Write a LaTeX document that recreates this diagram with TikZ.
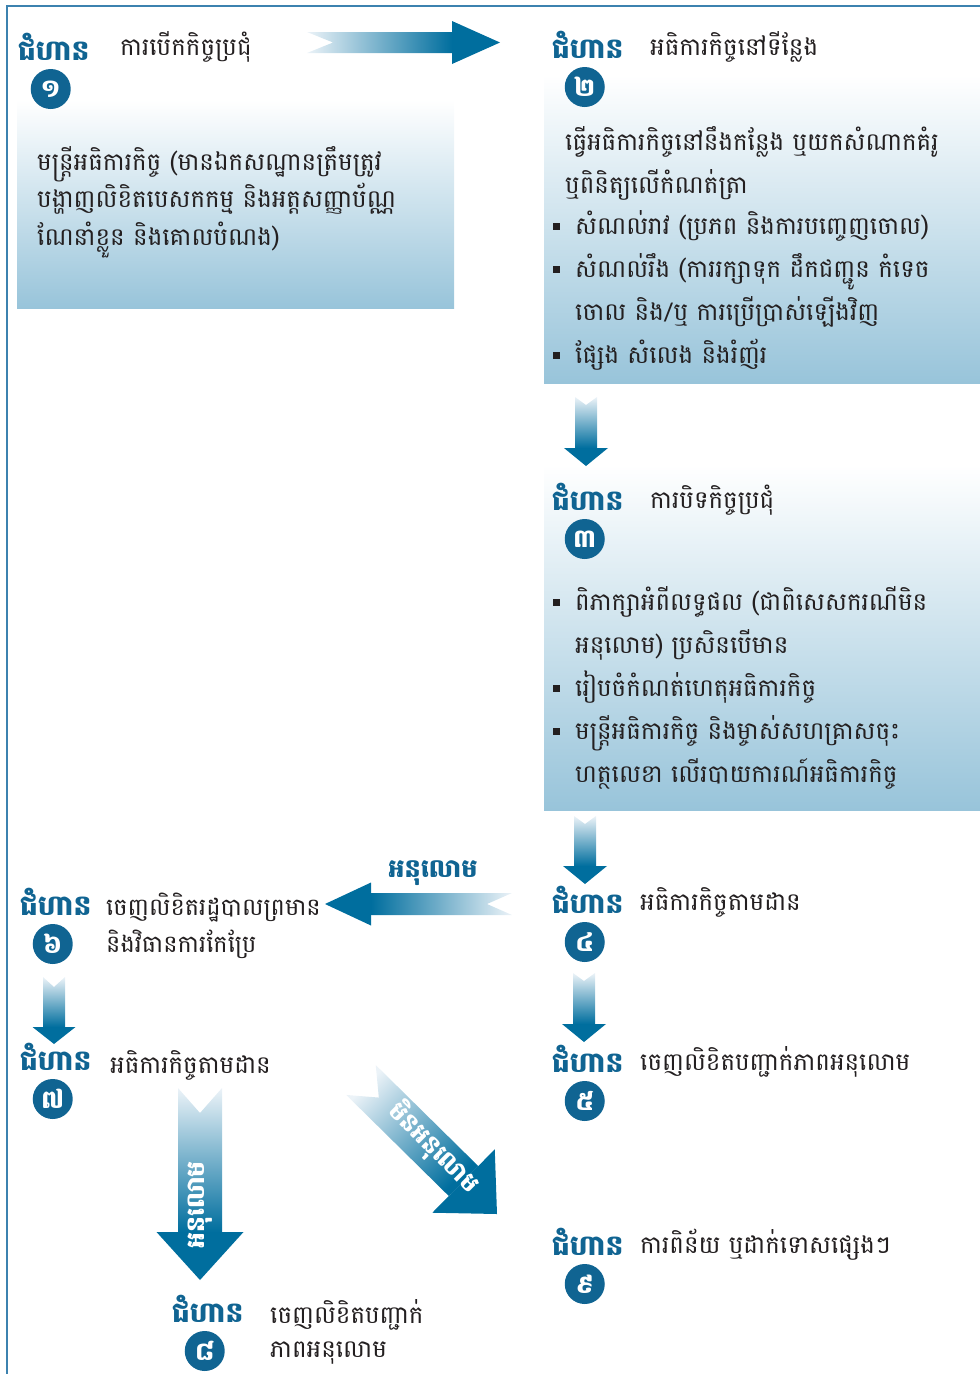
\documentclass[tikz,border=0pt]{standalone}
\usepackage{fontspec}
\newfontfamily\khmer[Script=Khmer]{Battambang}
\usetikzlibrary{calc,positioning}

\definecolor{stepblue}{RGB}{16,100,146}
\definecolor{arrowdark}{RGB}{0,110,158}
\definecolor{arrowpale}{RGB}{236,243,248}
\definecolor{boxblue}{RGB}{152,196,218}
\definecolor{framecol}{RGB}{60,130,175}
\definecolor{textgray}{RGB}{35,31,32}

\tikzset{
  headtext/.style={font=\khmer\bfseries\fontsize{28}{30}\selectfont, text=stepblue, inner sep=0pt},
  titletext/.style={font=\khmer\fontsize{24.5}{37}\selectfont, text=textgray, inner sep=0pt, align=left},
  listtext/.style={font=\khmer\fontsize{24.5}{43}\selectfont, text=textgray, inner sep=0pt, align=left},
  numdisc/.style={circle, fill=stepblue, minimum size=40pt, inner sep=0pt, text=white,
    font=\khmer\bfseries\fontsize{25}{25}\selectfont},
  onarrow/.style={font=\khmer\bfseries\fontsize{25}{25}\selectfont, text=white, inner sep=0pt}
}

% square bullet and the indent of a follow-on line
\newcommand{\sqbullet}{\makebox[22pt][l]{\rule[4pt]{7pt}{7pt}}}
\newcommand{\goon}{\hspace*{22pt}}

% header "step" with its numbered disc below
\newcommand{\stephead}[4]{%
  \node[headtext, anchor=base west] (#1) at (#2,#3) {ជំហាន};
  \node[numdisc] (#1-num) at ($(#1.base)+(-3,29)$) {#4};
}

% block arrow from (#1-tail) to (#1-tip): shading angle, half shaft, half head, head length, notch
\newcommand{\flowarrow}[6]{%
  \coordinate (#1-base) at ($(#1-tip)!#5!(#1-tail)$);
  \shade[top color=arrowpale, bottom color=arrowdark, shading angle=#2]
    ($(#1-tail)!#3!90:(#1-tip)$) -- ($(#1-tail)!#6!(#1-tip)$)
    -- ($(#1-tail)!#3!-90:(#1-tip)$) -- ($(#1-base)!#3!-90:(#1-tip)$)
    -- ($(#1-base)!#3!90:(#1-tip)$) -- cycle;
  \fill[arrowdark] ($(#1-base)!#4!90:(#1-tip)$) -- (#1-tip)
    -- ($(#1-base)!#4!-90:(#1-tip)$) -- cycle;
}

\begin{document}
\begin{tikzpicture}[x=1pt, y=-1pt]
\useasboundingbox (0,0) rectangle (980,1374);

% frame, top and left only
\draw[framecol, line width=1.5pt] (7,1374) -- (7,6) -- (980,6);

% shaded panels
\shade[top color=white, bottom color=boxblue] (17,100) rectangle (454,308);
\shade[top color=white, bottom color=boxblue] (544,75) rectangle (980,383);
\shade[top color=white, bottom color=boxblue] (544,465) rectangle (980,810);

% step 1 (multi-line nodes sit on the baseline of their last line)
\stephead{s1}{18}{60}{១}
\node[titletext, anchor=base west] (s1-title) at (120,55) {ការបើកកិច្ចប្រជុំ};
\node[titletext, font=\khmer\fontsize{24.5}{37.5}\selectfont,
  anchor=base west] (s1-body) at (37,245)
  {មន្ត្រីអធិការកិច្ច (មានឯកសណ្ឋានត្រឹមត្រូវ\\
   បង្ហាញលិខិតបេសកកម្ម និងអត្តសញ្ញាប័ណ្ណ\\
   ណែនាំខ្លួន និងគោលបំណង)};

% step 2
\stephead{s2}{552}{58}{២}
\node[titletext, anchor=base west] (s2-title) at (650,55) {អធិការកិច្ចនៅទីន្លែង};
\node[listtext, anchor=base west] (s2-intro) at (565,193)
  {ធ្វើអធិការកិច្ចនៅនឹងកន្លែង ឬយកសំណាកគំរូ\\
   ឬពិនិត្យលើកំណត់ត្រា};
\node[listtext, anchor=base west] (s2-list) at (553,363)
  {\sqbullet សំណល់រាវ (ប្រភព និងការបញ្ចេញចោល)\\
   \sqbullet សំណល់រឹង (ការរក្សាទុក ដឹកជញ្ជូន កំទេច\\
   \goon ចោល និង/ឬ ការប្រើប្រាស់ឡើងវិញ\\
   \sqbullet ផ្សែង សំលេង និងរំញ័រ};

% step 3
\stephead{s3}{552}{510}{៣}
\node[titletext, anchor=base west] (s3-title) at (650,508) {ការបិទកិច្ចប្រជុំ};
\node[listtext, anchor=base west] (s3-list) at (553,782)
  {\sqbullet ពិភាក្សាអំពីលទ្ធផល (ជាពិសេសករណីមិន\\
   \goon អនុលោម) ប្រសិនបើមាន\\
   \sqbullet រៀបចំកំណត់ហេតុអធិការកិច្ច\\
   \sqbullet មន្ត្រីអធិការកិច្ច និងម្ចាស់សហគ្រាសចុះ\\
   \goon ហត្ថលេខា លើរបាយការណ៍អធិការកិច្ច};

% steps 4 and 5
\stephead{s4}{552}{913}{៤}
\node[titletext, anchor=base west] (s4-title) at (640,910) {អធិការកិច្ចតាមដាន};
\stephead{s5}{552}{1072}{៥}
\node[titletext, anchor=base west] (s5-title) at (640,1070) {ចេញលិខិតបញ្ជាក់ភាពអនុលោម};

% steps 6, 7 and 8
\stephead{s6}{20}{915}{៦}
\node[titletext, font=\khmer\fontsize{24}{37}\selectfont, anchor=base west] (s6-title) at (106,952)
  {ចេញលិខិតរដ្ឋបាលព្រមាន\\និងវិធានការកែប្រែ};
\stephead{s7}{20}{1070}{៧}
\node[titletext, anchor=base west] (s7-title) at (110,1073) {អធិការកិច្ចតាមដាន};
\stephead{s8}{172}{1322}{៨}
\node[titletext, font=\khmer\fontsize{24.5}{34}\selectfont, anchor=base west] (s8-title) at (270,1357)
  {ចេញលិខិតបញ្ជាក់\\ភាពអនុលោម};

% step 9
\stephead{s9}{552}{1255}{៩}
\node[titletext, anchor=base west] (s9-title) at (640,1253) {ការពិន័យ ឬដាក់ទោសផ្សេងៗ};

% arrows
\coordinate (a1-tail) at (307,42.5);  \coordinate (a1-tip) at (500,42.5);
\coordinate (a2-tail) at (586,397);   \coordinate (a2-tip) at (586,466);
\coordinate (a3-tail) at (585,816);   \coordinate (a3-tip) at (585,884);
\coordinate (a4-tail) at (584,973);   \coordinate (a4-tip) at (584,1042);
\coordinate (a5-tail) at (512,904);   \coordinate (a5-tip) at (325,904);
\coordinate (a6-tail) at (54,977);    \coordinate (a6-tip) at (54,1044);
\coordinate (a7-tail) at (200,1088);  \coordinate (a7-tip) at (200,1280);
\coordinate (a8-tail) at (361,1080);  \coordinate (a8-tip) at (497,1214);

\flowarrow{a1}{90}{10.5pt}{21.5pt}{48pt}{26pt}
\flowarrow{a2}{0}{11pt}{22pt}{18pt}{8pt}
\flowarrow{a3}{0}{11pt}{22pt}{18pt}{8pt}
\flowarrow{a4}{0}{11pt}{22pt}{18pt}{8pt}
\flowarrow{a5}{-90}{11pt}{21.5pt}{46pt}{25pt}
\flowarrow{a6}{0}{11pt}{21.5pt}{17pt}{10pt}
\flowarrow{a7}{0}{22pt}{43.5pt}{48pt}{25pt}
\flowarrow{a8}{45}{21pt}{44.5pt}{47pt}{25pt}

% arrow labels
\node[headtext, font=\khmer\bfseries\fontsize{25.5}{26}\selectfont, anchor=base] (a5-label) at (433,877) {អនុលោម};
\node[onarrow, rotate=90] (a7-label) at (200,1205) {អនុលោម};
\node[onarrow, font=\khmer\bfseries\fontsize{24.5}{25}\selectfont, rotate=-45] (a8-label) at (434,1148) {មិនអនុលោម};

\end{tikzpicture}
\end{document}
